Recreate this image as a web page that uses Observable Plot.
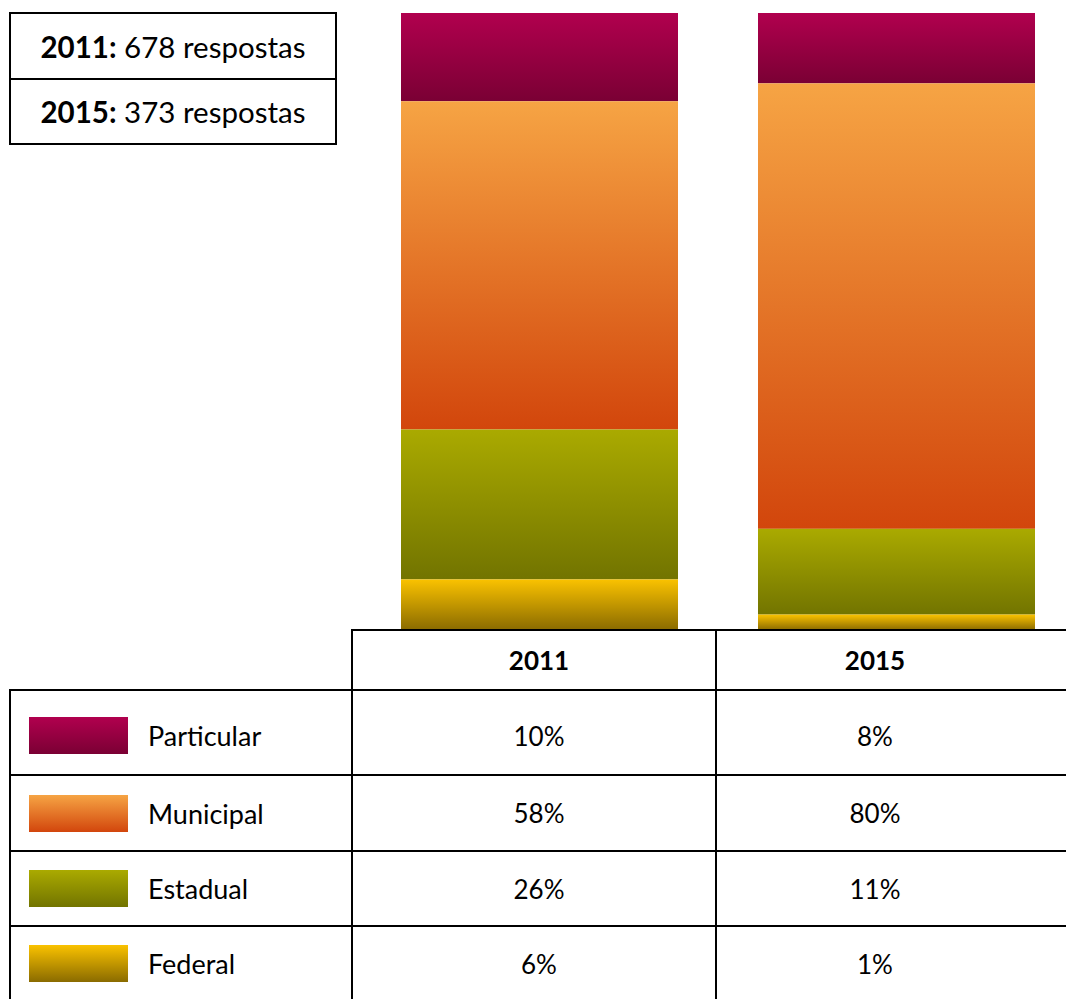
<!DOCTYPE html>
<html><head><meta charset="utf-8">
<script src="https://cdn.jsdelivr.net/npm/d3@7"></script>
<script src="https://cdn.jsdelivr.net/npm/@observablehq/plot@0.6"></script>
<style>
html,body{margin:0;padding:0;background:#fff}
body{width:1066px;height:999px;overflow:hidden;font-family:Lato,"Open Sans",sans-serif;color:#000}
#wrap{position:relative;width:1066px;height:999px;overflow:hidden}
#chart{position:absolute;left:0;top:0}
#counts{position:absolute;left:9px;top:12px;border-collapse:collapse;table-layout:fixed}
#counts td{border:2px solid #000;width:324px;text-align:center;font-size:29.5px;padding:0}
#tbl{position:absolute;left:9px;top:629px;border-collapse:collapse;table-layout:fixed;width:1106px}
#tbl td{border:2px solid #000;padding:0;font-size:26px;text-align:center;vertical-align:middle}
#tbl td.blank{border:none}
#tbl td.c2{padding-left:10px}
#tbl td.c3{padding-right:82px}
#tbl tr.first td{padding-top:6px}
.sw{display:inline-block;width:99px;height:37px;vertical-align:middle;margin-left:18px}
.lab{display:inline-block;vertical-align:middle;margin-left:20px;font-size:27px}
td.leg{text-align:left !important}
</style>
</head><body>
<div id="wrap">
  <div id="chart"></div>
  <table id="counts"></table>
  <table id="tbl"></table>
</div>
<script>
// ---- data ----
const years = ["2011", "2015"];
const responses = [678, 373];
const categories = ["Particular", "Municipal", "Estadual", "Federal"];
// percentages printed in the table
const tablePct2011 = [10, 58, 26, 6];
const tablePct2015 = [8, 80, 11, 1];
// segment shares as drawn in the bars
const barShare2011 = [14.3, 53.2, 24.3, 8.2];
const barShare2015 = [11.4, 72.2, 13.9, 2.5];
// gradient colours (top -> bottom)
const topColors = ["#B1004E", "#F6A444", "#AAAA00", "#FAC200"];
const bottomColors = ["#7A0034", "#D2460C", "#727400", "#8A6B00"];

// ---- bars ----
const rows = [];
years.forEach((y, j) => categories.forEach((c, i) =>
  rows.push({year: y, cat: c, v: (j === 0 ? barShare2011 : barShare2015)[i]})));
const stackOrder = categories.slice().reverse();

const chart = Plot.plot({
  width: 1066, height: 630,
  marginLeft: 401, marginRight: 31, marginTop: 13, marginBottom: 0,
  x: {domain: years, paddingInner: 80 / 357, paddingOuter: 0, axis: null},
  y: {domain: [0, 100], axis: null},
  color: {domain: categories, range: categories.map((c, i) => `url(#grad${i})`)},
  marks: [
    Plot.barY(rows, Plot.stackY({x: "year", y: "v", fill: "cat", order: stackOrder}))
  ]
});
const defs = d3.select(chart).insert("defs", ":first-child");
categories.forEach((c, i) => {
  const g = defs.append("linearGradient").attr("id", `grad${i}`)
    .attr("x1", 0).attr("y1", 0).attr("x2", 0).attr("y2", 1);
  g.append("stop").attr("offset", 0).attr("stop-color", topColors[i]);
  g.append("stop").attr("offset", 1).attr("stop-color", bottomColors[i]);
});
document.getElementById("chart").appendChild(chart);

// ---- counts box ----
const counts = d3.select("#counts");
years.forEach((y, j) => {
  const td = counts.append("tr").style("height", j === 0 ? "66px" : "65px").append("td");
  td.append("b").text(y + ":");
  td.append("span").text(" " + responses[j] + " respostas");
});

// ---- table ----
const tbl = d3.select("#tbl");
const cg = tbl.append("colgroup");
[342, 364, 400].forEach(w => cg.append("col").style("width", w + "px"));
const head = tbl.append("tr").style("height", "60px");
head.append("td").attr("class", "blank");
head.append("td").attr("class", "c2").append("b").text(years[0]);
head.append("td").attr("class", "c3").append("b").text(years[1]);
const rowH = [85, 76, 75, 75];
categories.forEach((c, i) => {
  const tr = tbl.append("tr").style("height", rowH[i] + "px").attr("class", i === 0 ? "first" : null);
  const td = tr.append("td").attr("class", "leg");
  td.append("span").attr("class", "sw")
    .style("background", `linear-gradient(to bottom, ${topColors[i]}, ${bottomColors[i]})`);
  td.append("span").attr("class", "lab").text(c);
  tr.append("td").attr("class", "c2").text(tablePct2011[i] + "%");
  tr.append("td").attr("class", "c3").text(tablePct2015[i] + "%");
});
</script>
</body></html>
